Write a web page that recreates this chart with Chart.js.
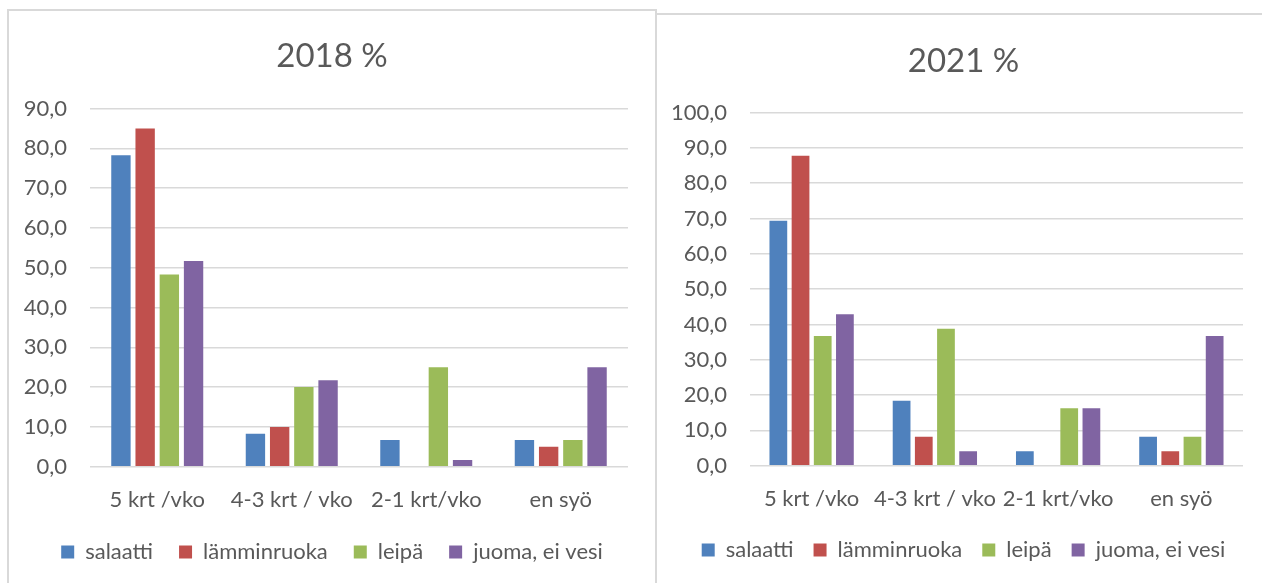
<!DOCTYPE html>
<html>
<head>
<meta charset="utf-8">
<script src="https://cdn.jsdelivr.net/npm/chart.js@4"></script>
<style>
    html, body { margin: 0; padding: 0; background: #fff; overflow: hidden; }
    body { width: 1262px; height: 583px; position: relative; }
    .box { position: absolute; background: #fff; box-sizing: border-box; }
    #box2018 { left: 7px; top: 9px; width: 650px; height: 600px; border: 2px solid #d9d9d9; border-bottom: none; }
    #box2021 { left: 655px; top: 13px; width: 620px; height: 600px; border-top: 2px solid #d9d9d9; border-left: 2px solid #d9d9d9; }
    .box canvas { position: absolute; left: 0; top: 0; }
</style>
</head>
<body>
<div class="box" id="box2018"><canvas id="chart2018" width="646" height="572"></canvas></div>
<div class="box" id="box2021"><canvas id="chart2021" width="613" height="568"></canvas></div>
<script>
// categories and series (%)
const categories = ['5 krt /vko', '4-3 krt / vko', '2-1 krt/vko', 'en syö'];
const seriesNames = ['salaatti', 'lämminruoka', 'leipä', 'juoma, ei vesi'];

const salaatti2018 = [78.3, 8.3, 6.7, 6.7];
const lamminruoka2018 = [85.0, 10.0, 0, 5.0];
const leipa2018 = [48.3, 20.0, 25.0, 6.7];
const juoma2018 = [51.7, 21.7, 1.7, 25.0];

const salaatti2021 = [69.4, 18.4, 4.1, 8.2];
const lamminruoka2021 = [87.8, 8.2, 0, 4.1];
const leipa2021 = [36.7, 38.8, 16.3, 8.2];
const juoma2021 = [42.9, 4.1, 16.3, 36.7];

// office palette
const colors = ['#4f81bd', '#c0504d', '#9bbb59', '#8064a2'];
const textColor = '#595959';
const gridColor = '#d9d9d9';
const fontFamily = 'Lato, "Open Sans", sans-serif';

function makeChart(id, title, series, yMax, cfg) {
    const datasets = series.map((values, i) => ({
        label: seriesNames[i],
        data: values,
        backgroundColor: colors[i],
        categoryPercentage: 0.72,
        barPercentage: 0.8
    }));

    return new Chart(document.getElementById(id), {
        type: 'bar',
        data: { labels: categories, datasets: datasets },
        options: {
            responsive: false,
            animation: false,
            layout: { padding: { left: 0, right: 0, top: 0, bottom: cfg.padBottom } },
            plugins: {
                title: {
                    display: true,
                    text: title,
                    color: textColor,
                    font: { family: fontFamily, size: 33, weight: 'normal' },
                    padding: { top: cfg.titleTop, bottom: cfg.titleBottom }
                },
                legend: {
                    position: 'bottom',
                    labels: {
                        color: textColor,
                        font: { family: fontFamily, size: 22 },
                        boxWidth: 13,
                        boxHeight: 13,
                        padding: cfg.legendGap
                    }
                },
                tooltip: { enabled: false }
            },
            scales: {
                x: {
                    afterFit: scale => { scale.height = cfg.xHeight; },
                    grid: { display: false, drawTicks: false },
                    border: { display: false },
                    ticks: {
                        color: textColor,
                        font: { family: fontFamily, size: 22 },
                        padding: 20,
                        maxRotation: 0,
                        autoSkip: false
                    }
                },
                y: {
                    min: 0,
                    max: yMax,
                    afterFit: scale => { scale.width = cfg.yWidth; },
                    grid: { color: gridColor, lineWidth: 1.5, drawTicks: false },
                    border: { display: false },
                    ticks: {
                        stepSize: 10,
                        padding: 23,
                        color: textColor,
                        font: { family: fontFamily, size: 22 },
                        callback: v => v.toFixed(1).replace('.', ',')
                    }
                },
                // empty right-hand spacer, keeps title and legend centred on the whole box
                spacer: {
                    type: 'linear',
                    position: 'right',
                    afterFit: scale => { scale.width = 27; },
                    grid: { display: false, drawTicks: false },
                    border: { display: false },
                    ticks: { display: false }
                }
            }
        }
    });
}

const chart2018 = makeChart('chart2018', '2018 %',
    [salaatti2018, lamminruoka2018, leipa2018, juoma2018], 90,
    { yWidth: 81, xHeight: 48.3, padBottom: 10, titleTop: 26, titleBottom: 32, legendGap: 26 });
const chart2021 = makeChart('chart2021', '2021 %',
    [salaatti2021, lamminruoka2021, leipa2021, juoma2021], 100,
    { yWidth: 93, xHeight: 53.3, padBottom: 12, titleTop: 27, titleBottom: 31, legendGap: 20 });
</script>
</body>
</html>
